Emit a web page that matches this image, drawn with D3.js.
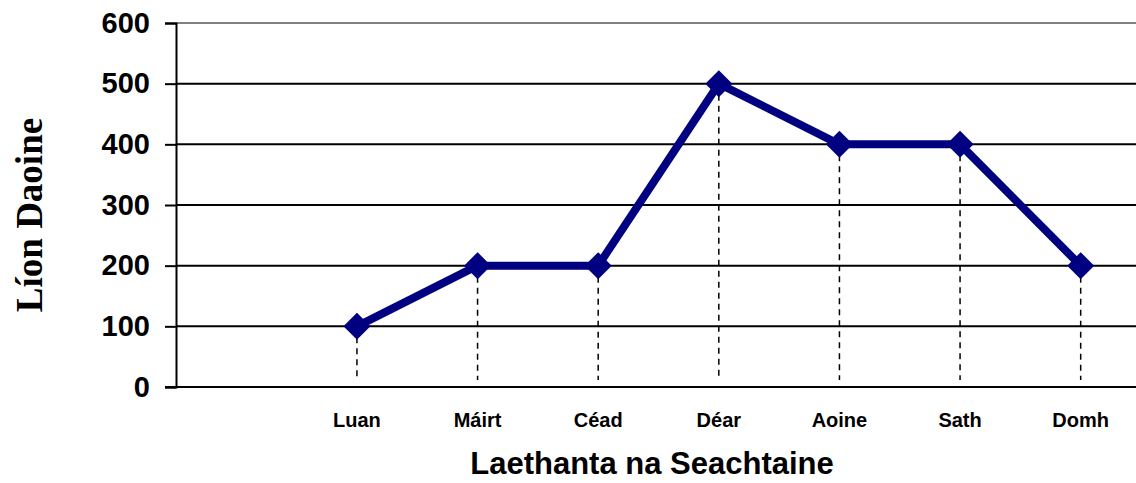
<!DOCTYPE html>
<html>
<head>
<meta charset="utf-8">
<script src="https://cdn.jsdelivr.net/npm/d3@7"></script>
<style>
  body { margin: 0; background: #fff; }
  svg { display: block; }
</style>
</head>
<body>
<div id="chart"></div>
<script>
var svgWidth = 1136;
var svgHeight = 483;

// data
var days = ["Luan", "Máirt", "Céad", "Déar", "Aoine", "Sath", "Domh"];
var people = [100, 200, 200, 500, 400, 400, 200];
var yTicks = [0, 100, 200, 300, 400, 500, 600];

var plotLeft = 176, plotRight = 1141, plotTop = 23, plotBottom = 387;

var svg = d3.select("#chart")
  .append("svg")
  .attr("width", svgWidth)
  .attr("height", svgHeight);

// one empty slot before Luan, so the band scale starts one step in
var step = (plotRight - plotLeft) / (days.length + 1);
var xScale = d3.scaleBand()
  .domain(days)
  .range([plotLeft + step, plotRight]);

var yScale = d3.scaleLinear()
  .domain([0, 600])
  .range([plotBottom, plotTop]);

var cx = d => xScale(d) + xScale.bandwidth() / 2;

// gridlines
svg.append("g")
  .selectAll("line")
  .data(yTicks.slice(1))
  .enter()
  .append("line")
  .attr("x1", plotLeft)
  .attr("x2", plotRight)
  .attr("y1", d => yScale(d))
  .attr("y2", d => yScale(d))
  .attr("stroke", d => d === 600 ? "#808080" : "#000")
  .attr("stroke-width", 2);

// y axis
var leftAxis = d3.axisLeft(yScale)
  .tickValues(yTicks)
  .tickSize(11)
  .tickPadding(15);

var yAxisG = svg.append("g")
  .attr("transform", `translate(${plotLeft}, 0)`)
  .call(leftAxis);
yAxisG.select(".domain").attr("stroke", "#000").attr("stroke-width", 2);
yAxisG.selectAll(".tick line").attr("stroke", "#000").attr("stroke-width", 2);
yAxisG.selectAll(".tick text")
  .attr("fill", "#000")
  .style("font-family", "'Liberation Sans', Arial, sans-serif")
  .style("font-weight", "bold")
  .style("font-size", "29px");

// x axis baseline
svg.append("line")
  .attr("x1", plotLeft - 11)
  .attr("x2", plotRight)
  .attr("y1", plotBottom)
  .attr("y2", plotBottom)
  .attr("stroke", "#000")
  .attr("stroke-width", 2);

// x labels
svg.append("g")
  .selectAll("text")
  .data(days)
  .enter()
  .append("text")
  .attr("x", d => cx(d))
  .attr("y", 427)
  .attr("text-anchor", "middle")
  .style("font-family", "'Liberation Sans', Arial, sans-serif")
  .style("font-weight", "bold")
  .style("font-size", "20px")
  .text(d => d);

// drop lines
svg.append("g")
  .selectAll("line")
  .data(days)
  .enter()
  .append("line")
  .attr("x1", d => cx(d))
  .attr("x2", d => cx(d))
  .attr("y1", (d, i) => yScale(people[i]))
  .attr("y2", plotBottom - 7)
  .attr("stroke", "#000")
  .attr("stroke-width", 1.5)
  .attr("stroke-dasharray", "6,5");

// series line
var line = d3.line()
  .x((d, i) => cx(days[i]))
  .y(d => yScale(d));

svg.append("path")
  .datum(people)
  .attr("d", line)
  .attr("fill", "none")
  .attr("stroke", "#000080")
  .attr("stroke-width", 8)
  .attr("stroke-linejoin", "round");

// diamond markers
svg.append("g")
  .selectAll("path")
  .data(people)
  .enter()
  .append("path")
  .attr("transform", (d, i) => `translate(${cx(days[i])}, ${yScale(d)})`)
  .attr("d", "M0,-13.5L13.5,0L0,13.5L-13.5,0Z")
  .attr("fill", "#000080");

// axis titles
svg.append("text")
  .attr("x", 652)
  .attr("y", 474)
  .attr("text-anchor", "middle")
  .style("font-family", "'Liberation Sans', Arial, sans-serif")
  .style("font-weight", "bold")
  .style("font-size", "31px")
  .text("Laethanta na Seachtaine");

svg.append("text")
  .attr("transform", "translate(42, 215) rotate(-90)")
  .attr("text-anchor", "middle")
  .style("font-family", "'Liberation Serif', 'Times New Roman', serif")
  .style("font-weight", "bold")
  .style("font-size", "37px")
  .text("Líon Daoine");
</script>
</body>
</html>
